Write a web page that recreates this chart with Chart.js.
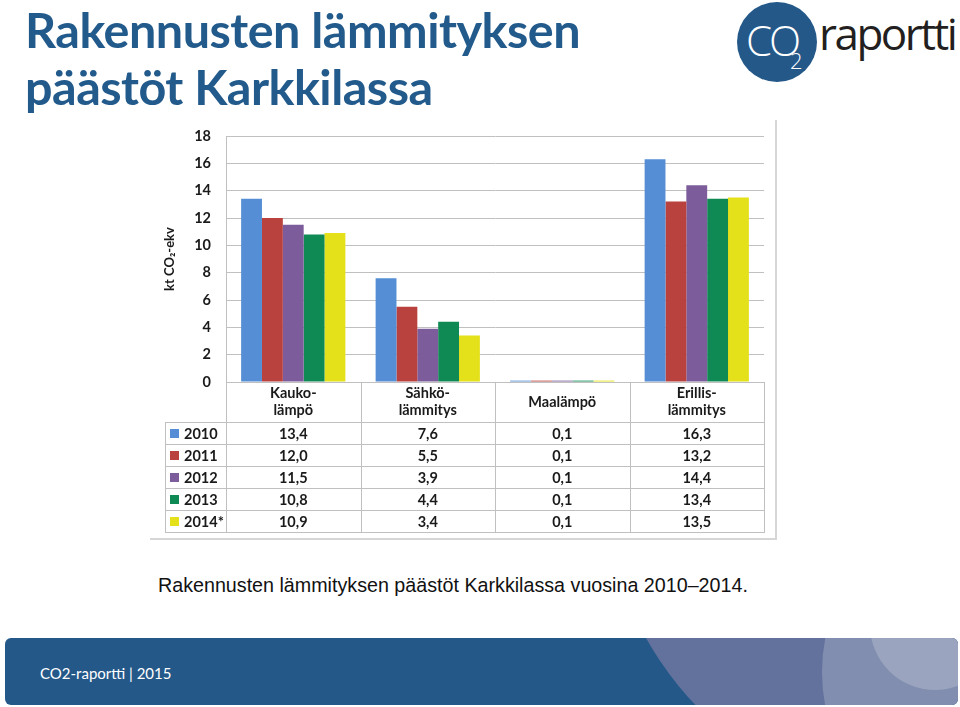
<!DOCTYPE html>
<html>
<head>
<meta charset="utf-8">
<script src="https://cdn.jsdelivr.net/npm/chart.js@4"></script>
<style>
  body { margin:0; width:960px; height:707px; background:#fff; position:relative; overflow:hidden; font-family:Lato, "Open Sans", sans-serif; }
  #title { position:absolute; left:25px; top:1px; margin:0; font-weight:700; font-size:48.5px; line-height:57px; color:#215a8b; letter-spacing:-0.5px; }
  #logo { position:absolute; left:737px; top:2px; width:80px; height:80px; border-radius:50%; background:#235889; }
  #logo .co { position:absolute; left:9px; top:9px; color:#fff; font-family:"Open Sans"; font-weight:300; font-size:42px; letter-spacing:-3px; }
  #logo .two { position:absolute; left:53px; top:43px; color:#fff; font-family:"Open Sans"; font-weight:300; font-size:22px; }
  #raportti { position:absolute; left:819px; top:3px; color:#231f20; font-family:"Open Sans"; font-size:44px; letter-spacing:-2.5px; }
  #box { position:absolute; left:150px; top:120px; width:625px; height:418px; border-right:2px solid #d6d6d6; border-bottom:2px solid #d6d6d6; }
  #caption { position:absolute; left:158px; top:574px; font-family:"Liberation Sans", Arial, sans-serif; font-size:19.7px; color:#111; }
  #footer { position:absolute; left:5px; top:638px; width:953px; height:67px; border-radius:6px; background:#235889; overflow:hidden; }
  #footer .c { position:absolute; border-radius:50%; }
  #footer .txt { position:absolute; left:35px; top:26px; color:#fff; font-size:15px; }
</style>
</head>
<body>
<h1 id="title">Rakennusten lämmityksen<br>päästöt Karkkilassa</h1>
<div id="logo"><span class="co">CO</span><span class="two">2</span></div>
<div id="raportti">raportti</div>
<div id="box"><canvas id="chart"></canvas></div>
<div id="caption">Rakennusten lämmityksen päästöt Karkkilassa vuosina 2010–2014.</div>
<div id="footer">
  <div class="c" style="left:600px;top:-483px;width:650px;height:650px;background:#62729c;"></div>
  <div class="c" style="left:817px;top:-144px;width:356px;height:356px;background:rgba(255,255,255,0.2);"></div>
  <div class="c" style="left:865px;top:-78px;width:130px;height:130px;background:rgba(255,255,255,0.2);"></div>
  <div class="txt">CO2-raportti | 2015</div>
</div>
<script>
var categories = [["Kauko-", "lämpö"], ["Sähkö-", "lämmitys"], ["Maalämpö"], ["Erillis-", "lämmitys"]];
var years = ["2010", "2011", "2012", "2013", "2014*"];
var values2010 = [13.4, 7.6, 0.1, 16.3];
var values2011 = [12.0, 5.5, 0.1, 13.2];
var values2012 = [11.5, 3.9, 0.1, 14.4];
var values2013 = [10.8, 4.4, 0.1, 13.4];
var values2014 = [10.9, 3.4, 0.1, 13.5];
var yTicks = [0, 2, 4, 6, 8, 10, 12, 14, 16, 18];

var seriesValues = [values2010, values2011, values2012, values2013, values2014];
var colors = ["#558ed5", "#b9413e", "#7d5c9b", "#0f8a55", "#e4e01a"];

var font = "Lato";
var lineColor = "#c0c0c0";

function fmt(v) {
    return v.toFixed(1).replace(".", ",");
}

// data table under the plot, columns follow the x scale
var tablePlugin = {
    id: "dataTable",
    afterDraw: function(chart) {
        var ctx = chart.ctx;
        var area = chart.chartArea;
        var x = chart.scales.x;
        var top = Math.round(area.bottom);
        var headH = 40, rowH = 22;
        var keyLeft = Math.round(area.left) - 61;
        var half = (x.getPixelForValue(1) - x.getPixelForValue(0)) / 2;
        var bottom = top + headH + years.length * rowH;
        ctx.save();
        ctx.strokeStyle = lineColor;
        ctx.lineWidth = 1;
        ctx.beginPath();
        for (var i = 0; i <= categories.length; i++) {
            var xp = i < categories.length ? Math.round(x.getPixelForValue(i) - half) : Math.round(area.right);
            ctx.moveTo(xp + 0.5, top);
            ctx.lineTo(xp + 0.5, bottom + 0.5);
        }
        ctx.moveTo(keyLeft + 0.5, top + headH);
        ctx.lineTo(keyLeft + 0.5, bottom + 0.5);
        ctx.moveTo(Math.round(area.left), top + 0.5);
        ctx.lineTo(Math.round(area.right), top + 0.5);
        for (var r = 0; r <= years.length; r++) {
            var yp = top + headH + r * rowH + 0.5;
            ctx.moveTo(keyLeft, yp);
            ctx.lineTo(Math.round(area.right) + 1, yp);
        }
        ctx.stroke();

        ctx.fillStyle = "#1a1a1a";
        ctx.font = "bold 14.5px " + font;
        ctx.textAlign = "center";
        ctx.textBaseline = "middle";
        categories.forEach(function(lines, i) {
            var cx = x.getPixelForValue(i);
            var startY = top + headH / 2 - (lines.length - 1) * 17 / 2;
            lines.forEach(function(t, j) {
                ctx.fillText(t, cx, startY + j * 17);
            });
        });
        years.forEach(function(yr, r) {
            var cy = top + headH + r * rowH + rowH / 2 + 1;
            ctx.fillStyle = colors[r];
            ctx.fillRect(keyLeft + 5, cy - 5, 9, 9);
            ctx.fillStyle = "#1a1a1a";
            ctx.textAlign = "left";
            ctx.fillText(yr, keyLeft + 19, cy);
            ctx.textAlign = "center";
            seriesValues[r].forEach(function(v, i) {
                ctx.fillText(fmt(v), x.getPixelForValue(i), cy);
            });
        });
        ctx.restore();
    }
};

var datasets = years.map(function(yr, i) {
    return {
        label: yr,
        data: seriesValues[i],
        backgroundColor: colors[i],
        borderWidth: 0,
        categoryPercentage: 0.775,
        barPercentage: 1.0
    };
});

var ctx = document.getElementById("chart").getContext("2d");
var chart = new Chart(ctx, {
    type: "bar",
    data: {
        labels: categories.map(function(c) { return c.join(""); }),
        datasets: datasets
    },
    options: {
        responsive: true,
        maintainAspectRatio: false,
        animation: false,
        layout: {
            padding: { left: 0, right: 11, top: 16, bottom: 156 }
        },
        plugins: {
            legend: { display: false },
            tooltip: { enabled: false }
        },
        scales: {
            x: {
                display: false
            },
            y: {
                min: 0,
                max: 18,
                afterBuildTicks: function(scale) {
                    scale.ticks = yTicks.map(function(v) { return { value: v }; });
                },
                afterFit: function(scale) {
                    scale.width = 76;
                    // tick padding should not push the plot down
                    scale.paddingTop = 9;
                    scale.paddingBottom = 9;
                },
                grid: { color: lineColor, drawTicks: false },
                border: { display: true, color: lineColor },
                ticks: {
                    padding: 15,
                    color: "#1a1a1a",
                    font: { family: font, size: 14.5, weight: "bold" }
                },
                title: {
                    display: true,
                    text: "kt CO₂-ekv",
                    color: "#1a1a1a",
                    padding: { top: 12, bottom: 0 },
                    font: { family: font, size: 13, weight: "bold" }
                }
            }
        }
    },
    plugins: [tablePlugin]
});
</script>
</body>
</html>
